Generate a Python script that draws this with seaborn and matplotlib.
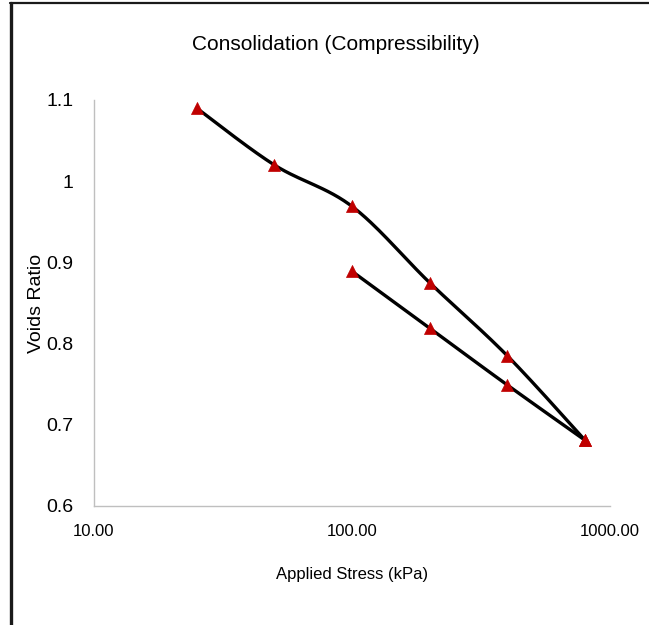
import numpy as np
import pandas as pd
import matplotlib
matplotlib.use('Agg')
import matplotlib.pyplot as plt
import seaborn as sns
from matplotlib.lines import Line2D

# Data
load_stress = [25, 50, 100, 200, 400, 800]
load_void = [1.090, 1.020, 0.969, 0.875, 0.785, 0.681]
unload_stress = [800, 400, 200, 100]
unload_void = [0.681, 0.749, 0.819, 0.889]

x_ticks = [10, 100, 1000]
x_tick_labels = ['10.00', '100.00', '1000.00']
y_ticks = [0.6, 0.7, 0.8, 0.9, 1.0, 1.1]
y_tick_labels = ['0.6', '0.7', '0.8', '0.9', '1', '1.1']


def smooth(xs, ys, n=30):
    # Excel-style smoothed line (Catmull-Rom) done in log-x space
    lx = np.log10(xs)
    pts = np.column_stack([lx, ys])
    out = []
    for i in range(len(pts) - 1):
        p0 = pts[max(i - 1, 0)]
        p1 = pts[i]
        p2 = pts[i + 1]
        p3 = pts[min(i + 2, len(pts) - 1)]
        c1 = p1 + (p2 - p0) / 6
        c2 = p2 - (p3 - p1) / 6
        t = np.linspace(0, 1, n)[:, None]
        seg = ((1 - t) ** 3) * p1 + 3 * ((1 - t) ** 2) * t * c1 + 3 * (1 - t) * t ** 2 * c2 + t ** 3 * p2
        out.append(seg if i == 0 else seg[1:])
    out = np.vstack(out)
    return 10 ** out[:, 0], out[:, 1]


sns.set_style('white')
plt.rcParams['font.family'] = ['Liberation Sans', 'DejaVu Sans']
plt.rcParams['text.color'] = 'black'
plt.rcParams['axes.labelcolor'] = 'black'
plt.rcParams['xtick.color'] = 'black'
plt.rcParams['ytick.color'] = 'black'

fig = plt.figure(figsize=(6.49, 6.25), dpi=100)
ax = fig.add_axes([94 / 649, 1 - 506 / 625, (610 - 94) / 649, (506 - 100) / 625])

for xs, ys in [(load_stress, load_void), (unload_stress, unload_void)]:
    sx, sy = smooth(xs, ys)
    sns.lineplot(x=sx, y=sy, ax=ax, color='black', linewidth=2.4, sort=False,
                 estimator=None, zorder=2)

pts = pd.DataFrame({'stress': load_stress + unload_stress,
                    'void': load_void + unload_void})
sns.scatterplot(data=pts, x='stress', y='void', ax=ax, marker='^', s=75,
                color='#C00000', edgecolor='#C00000', linewidth=0.5, zorder=3)

ax.set_xscale('log')
ax.set_xlim(10, 1000)
ax.set_ylim(0.6, 1.1)
ax.set_xticks(x_ticks)
ax.set_xticklabels(x_tick_labels, fontsize=12)
ax.set_yticks(y_ticks)
ax.set_yticklabels(y_tick_labels, fontsize=14)
ax.minorticks_off()
ax.tick_params(axis='x', length=0, pad=13)
ax.tick_params(axis='y', length=0, pad=15)

for side in ['top', 'right']:
    ax.spines[side].set_visible(False)
for side in ['left', 'bottom']:
    ax.spines[side].set_color('#BFBFBF')
    ax.spines[side].set_linewidth(1)

ax.set_xlabel('Applied Stress (kPa)', fontsize=12, labelpad=20)
ax.set_ylabel('Voids Ratio', fontsize=14, labelpad=1)

fig.text(336 / 649, 1 - 45 / 625, 'Consolidation (Compressibility)', fontsize=15,
         ha='center', va='center')

# frame drawn around the picture
fig.add_artist(Line2D([10 / 649, 1], [1 - 3 / 625, 1 - 3 / 625], color='#1a1a1a', lw=1.6,
                      transform=fig.transFigure))
fig.add_artist(Line2D([10.5 / 649, 10.5 / 649], [0, 1 - 3 / 625], color='#1a1a1a', lw=2.4,
                      transform=fig.transFigure))

fig.savefig('out.png', dpi=100)
